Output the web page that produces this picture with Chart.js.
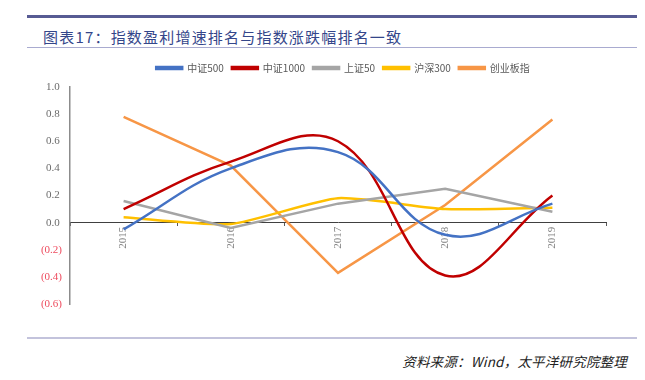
<!DOCTYPE html>
<html>
<head>
<meta charset="utf-8">
<script src="https://cdn.jsdelivr.net/npm/chart.js@4.4.1/dist/chart.umd.min.js"></script>
<style>
    html, body { margin: 0; padding: 0; background: #fff; }
    body { width: 645px; height: 380px; position: relative; overflow: hidden; font-family: "Noto Sans CJK SC", sans-serif; }
    .rule-top { position: absolute; left: 27px; top: 15px; width: 610px; height: 3px; background: #575b93; }
    .title { position: absolute; left: 43px; top: 27px; font-size: 15px; letter-spacing: 1.2px; color: #34468a; line-height: 20px; }
    .rule-title { position: absolute; left: 27px; top: 47px; width: 610px; height: 1px; background: #a9abd0; }
    .rule-foot { position: absolute; left: 27px; top: 337px; width: 610px; height: 2px; background: #c3c3dc; }
    .source { position: absolute; right: 18px; top: 352px; font-size: 13.5px; letter-spacing: 0.2px; font-style: italic; color: #222; line-height: 18px; }
    .chart-box { position: absolute; left: 0; top: 54px; width: 645px; height: 272px; }
</style>
</head>
<body>
<div class="rule-top"></div>
<div class="title">图表17：指数盈利增速排名与指数涨跌幅排名一致</div>
<div class="rule-title"></div>
<div class="chart-box"><canvas id="chart"></canvas></div>
<div class="rule-foot"></div>
<div class="source">资料来源：Wind，太平洋研究院整理</div>

<script>
    // categories
    const YEARS = ['2015', '2016', '2017', '2018', '2019'];

    // series values
    const CSI500 = [-0.05, 0.40, 0.52, -0.09, 0.14];
    const CSI1000 = [0.10, 0.45, 0.60, -0.39, 0.20];
    const SSE50 = [0.16, -0.04, 0.14, 0.25, 0.08];
    const HS300 = [0.04, -0.01, 0.18, 0.10, 0.11];
    const CHINEXT = [0.78, 0.42, -0.37, 0.13, 0.76];

    // y axis range and step
    const Y_MIN = -0.6;
    const Y_MAX = 1.0;
    const Y_STEP = 0.2;

    const SERIES_NAMES = ['中证500', '中证1000', '上证50', '沪深300', '创业板指'];
    const SERIES_DATA = [CSI500, CSI1000, SSE50, HS300, CHINEXT];
    const SERIES_COLORS = ['#4472c4', '#c00000', '#a5a5a5', '#ffc000', '#f79646'];
    const SERIES_TENSION = [0.4, 0.4, 0, 0.2, 0];

    const serif = '"Liberation Serif", "Times New Roman", serif';

    // accounting style labels: negatives in brackets, positives keep a trailing space
    function formatTick(value) {
        const v = Math.round(value * 10) / 10;
        if (v < 0) return '(' + Math.abs(v).toFixed(1) + ')';
        return v.toFixed(1) + '\u2009';
    }

    // push the plot down a bit under the legend and move the legend right
    const legendTweak = {
        id: 'legendTweak',
        beforeInit(chart) {
            const fit = chart.legend.fit;
            chart.legend.fit = function () {
                fit.call(this);
                this.height += 5;
            };
        },
        afterLayout(chart) {
            const lg = chart.legend;
            lg.left += 40;
            lg.right += 40;
            lg.top += 1;
            lg.bottom += 1;
        }
    };

    const datasets = SERIES_NAMES.map((name, i) => ({
        label: name,
        data: SERIES_DATA[i],
        borderColor: SERIES_COLORS[i],
        backgroundColor: SERIES_COLORS[i],
        borderWidth: 2.5,
        pointRadius: 0,
        pointHoverRadius: 0,
        fill: false,
        tension: SERIES_TENSION[i]
    }));

    new Chart(document.getElementById('chart'), {
        type: 'line',
        data: { labels: YEARS, datasets },
        plugins: [legendTweak],
        options: {
            responsive: true,
            maintainAspectRatio: false,
            animation: false,
            layout: { padding: { right: 39, bottom: 22, left: 0, top: 0 } },
            plugins: {
                legend: {
                    position: 'top',
                    labels: {
                        boxWidth: 26,
                        boxHeight: 2,
                        padding: 8,
                        color: '#595959',
                        font: { family: '"Noto Sans CJK SC", sans-serif', size: 10 }
                    }
                },
                tooltip: { enabled: false }
            },
            scales: {
                x: {
                    type: 'category',
                    offset: true,
                    position: { y: 0 },
                    grid: {
                        display: true,
                        drawOnChartArea: false,
                        drawTicks: true,
                        tickLength: 3,
                        offset: true,
                        color: '#595959'
                    },
                    border: { display: true, color: '#404040', width: 1 },
                    ticks: {
                        minRotation: 90,
                        maxRotation: 90,
                        padding: 1,
                        color: '#7f7f7f',
                        font: { family: serif, size: 11 }
                    }
                },
                y: {
                    min: Y_MIN,
                    max: Y_MAX,
                    afterFit: function (scale) { scale.width = 70; },
                    grid: { display: false, drawTicks: false },
                    border: { display: true, color: '#8c8c8c', width: 1.5 },
                    ticks: {
                        stepSize: Y_STEP,
                        padding: 8,
                        font: { family: serif, size: 11 },
                        color: function (ctx) {
                            return ctx.tick && ctx.tick.value < -0.001 ? '#ee4b5e' : '#6b6b6b';
                        },
                        callback: formatTick
                    }
                }
            }
        }
    });
</script>
</body>
</html>
